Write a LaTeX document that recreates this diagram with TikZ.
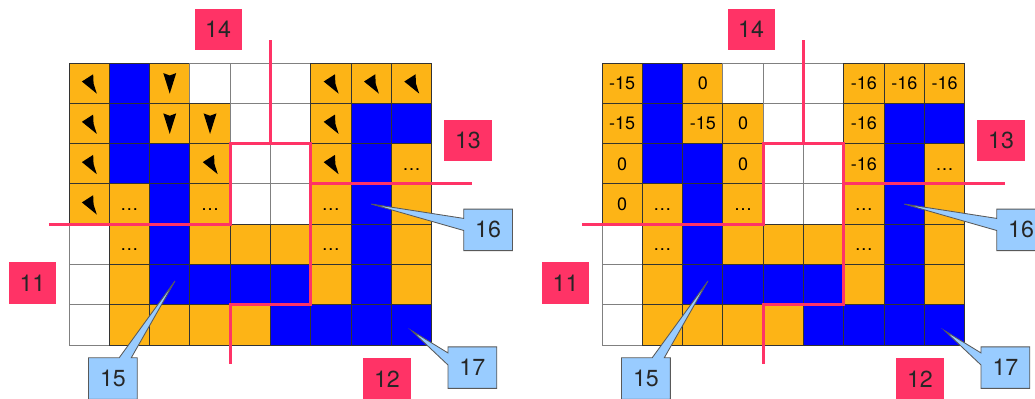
\documentclass[tikz,border=0pt]{standalone}
\usepackage{fontspec}
\setmainfont{TeX Gyre Heros}
\usetikzlibrary{shapes.callouts}

\definecolor{gridorange}{RGB}{253,180,22}
\definecolor{gridblue}{RGB}{0,0,255}
\definecolor{tagred}{RGB}{255,51,102}
\definecolor{noteblue}{RGB}{153,204,255}

\begin{document}
\begin{tikzpicture}[
    cell/.style={draw=black!80, line width=0.6pt, minimum size=1cm, inner sep=0pt, text height=9pt, text depth=0pt, font=\fontsize{12.7}{14}\selectfont},
    or/.style={cell, fill=gridorange},
    bl/.style={cell, fill=gridblue},
    wh/.style={cell, fill=white, draw=black!50},
    tag/.style={fill=tagred, text=black!85, minimum width=1.17cm, minimum height=1.02cm, inner sep=0pt, font=\fontsize{16.4}{18}\selectfont},
    note/.style={rectangle callout, draw=black!65, line width=0.6pt, fill=noteblue, text=black!85, minimum width=1.21cm, minimum height=1.03cm, inner sep=0pt, callout pointer width=0.3cm, font=\fontsize{16.4}{18}\selectfont},
    cut/.style={draw=tagred, line width=2.1pt},
    pics/nwtip/.style={code={\fill (-0.18,0.04) -- (0.1,0.22) -- (0.11,-0.01) -- (0.19,-0.26) -- cycle;}},
    pics/dntip/.style={code={\fill (0,-0.26) -- (0.16,0.25) -- (0,0.19) -- (-0.16,0.25) -- cycle;}}
]
\useasboundingbox (-1.712,1.563) rectangle (23.97,-8.337);

% Left grid
\foreach \cells [count=\r] in {
    {or/{}, bl/{}, or/{}, wh/{}, wh/{}, wh/{}, or/{}, or/{}, or/{}},
    {or/{}, bl/{}, or/{}, or/{}, wh/{}, wh/{}, or/{}, bl/{}, bl/{}},
    {or/{}, bl/{}, bl/{}, or/{}, wh/{}, wh/{}, or/{}, bl/{}, or/\ldots},
    {or/{}, or/\ldots, bl/{}, or/\ldots, wh/{}, wh/{}, or/\ldots, bl/{}, or/{}},
    {wh/{}, or/\ldots, bl/{}, or/{}, or/{}, or/{}, or/\ldots, bl/{}, or/{}},
    {wh/{}, or/{}, bl/{}, bl/{}, bl/{}, bl/{}, or/{}, bl/{}, or/{}},
    {wh/{}, or/{}, or/{}, or/{}, or/{}, bl/{}, bl/{}, bl/{}, bl/{}}}
  \foreach \f/\t [count=\c] in \cells
    \node[\f] (L-\r-\c) at (\c-0.5, 0.5-\r) {\t};

% Directions
\foreach \rc in {1-1, 1-7, 1-8, 1-9, 2-1, 2-7, 3-1, 3-4, 3-7, 4-1}
  \pic at (L-\rc) {nwtip};
\foreach \rc in {1-3, 2-3, 2-4}
  \pic at (L-\rc) {dntip};

% Cuts
\draw[cut] (5,0.57) -- (5,-2);
\draw[cut] (-0.5,-4) -- (4,-4) -- (4,-2) -- (6,-2) -- (6,-6) -- (4,-6) -- (4,-7.47);
\draw[cut] (6,-3) -- (10,-3);

% Tags
\node[tag] (L-top) at (3.70,0.84) {14};
\node[tag] (L-right) at (9.90,-1.93) {13};
\node[tag] (L-left) at (-0.906,-5.46) {11};
\node[tag] (L-bottom) at (7.89,-7.84) {12};

% Notes
\node[note, callout absolute pointer={([xshift=3.7pt,yshift=2.6pt]L-6-3.center)}] (L-n15) at (1.09,-7.83) {15};
\node[note, callout absolute pointer={(L-4-8.center)}] (L-n16) at (10.40,-4.14) {16};
\node[note, callout absolute pointer={([yshift=-4pt]L-7-9.center)}] (L-n17) at (10.01,-7.56) {17};

\begin{scope}[xshift=13.226cm]
% Right grid
\foreach \cells [count=\r] in {
    {or/-15, bl/{}, or/0, wh/{}, wh/{}, wh/{}, or/-16, or/-16, or/-16},
    {or/-15, bl/{}, or/-15, or/0, wh/{}, wh/{}, or/-16, bl/{}, bl/{}},
    {or/0, bl/{}, bl/{}, or/0, wh/{}, wh/{}, or/-16, bl/{}, or/\ldots},
    {or/0, or/\ldots, bl/{}, or/\ldots, wh/{}, wh/{}, or/\ldots, bl/{}, or/{}},
    {wh/{}, or/\ldots, bl/{}, or/{}, or/{}, or/{}, or/\ldots, bl/{}, or/{}},
    {wh/{}, or/{}, bl/{}, bl/{}, bl/{}, bl/{}, or/{}, bl/{}, or/{}},
    {wh/{}, or/{}, or/{}, or/{}, or/{}, bl/{}, bl/{}, bl/{}, bl/{}}}
  \foreach \f/\t [count=\c] in \cells
    \node[\f] (R-\r-\c) at (\c-0.5, 0.5-\r) {\t};

% Cuts
\draw[cut] (5,0.57) -- (5,-2);
\draw[cut] (-0.5,-4) -- (4,-4) -- (4,-2) -- (6,-2) -- (6,-6) -- (4,-6) -- (4,-7.47);
\draw[cut] (6,-3) -- (10,-3);

% Tags
\node[tag] (R-top) at (3.70,0.84) {14};
\node[tag] (R-right) at (9.90,-1.93) {13};
\node[tag] (R-left) at (-0.906,-5.46) {11};
\node[tag] (R-bottom) at (7.89,-7.84) {12};

% Notes
\node[note, callout absolute pointer={([xshift=3.7pt,yshift=2.6pt]R-6-3.center)}] (R-n15) at (1.09,-7.83) {15};
\node[note, callout absolute pointer={(R-4-8.center)}] (R-n16) at (10.40,-4.14) {16};
\node[note, callout absolute pointer={([yshift=-4pt]R-7-9.center)}] (R-n17) at (10.01,-7.56) {17};
\end{scope}

\end{tikzpicture}
\end{document}
